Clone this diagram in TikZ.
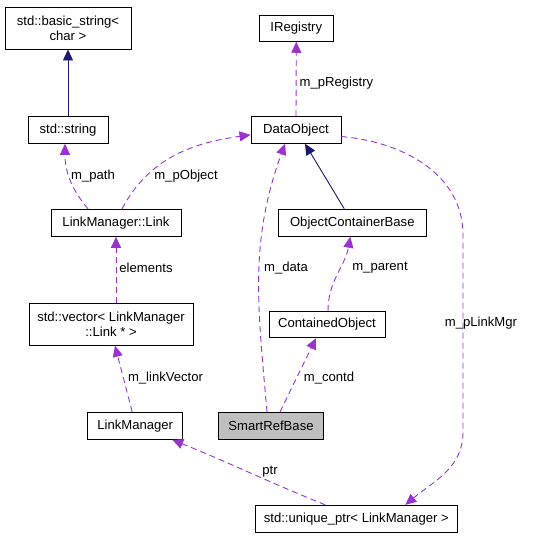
\documentclass[tikz,border=0pt]{standalone}
\usepackage{fontspec}
\setmainfont{Liberation Sans}
\usetikzlibrary{arrows.meta}
\definecolor{edgepurple}{HTML}{9A32CD}
\definecolor{edgenavy}{HTML}{191970}
\definecolor{boxgray}{HTML}{BFBFBF}
\begin{document}
\begin{tikzpicture}[x=1pt,y=-1pt,
  font=\fontsize{13.1}{15}\selectfont,
  box/.style={draw=black, line width=0.9pt, fill=white, inner sep=0pt, align=center},
  rel/.style={draw=edgepurple, line width=0.9pt, dash pattern=on 6pt off 4pt, -{Triangle[length=11pt,width=10pt]}},
  inh/.style={draw=edgenavy, line width=0.9pt, -{Triangle[length=11pt,width=10pt]}},
  lbl/.style={inner sep=0pt, anchor=center}
]
\useasboundingbox (0,0) rectangle (548,539);
% nodes
\node[box, minimum width=126pt, minimum height=42pt] (bstr) at (68,28) {std::basic\_string<\\char >};
\node[box, minimum width=80pt, minimum height=27pt] (str) at (68,129.8) {std::string};
\node[box, minimum width=130pt, minimum height=27pt] (link) at (116,222.8) {LinkManager::Link};
\node[box, minimum width=74pt, minimum height=26pt] (ireg) at (296.3,28.3) {IRegistry};
\node[box, minimum width=90pt, minimum height=27pt] (dobj) at (296,129.8) {DataObject};
\node[box, minimum width=148pt, minimum height=27pt] (ocb) at (352.3,222.8) {ObjectContainerBase};
\node[box, minimum width=164pt, minimum height=42pt] (vec) at (111,324.3) {std::vector< LinkManager\\::Link * >};
\node[box, minimum width=116pt, minimum height=26.4pt] (cobj) at (327,324.5) {ContainedObject};
\node[box, minimum width=95pt, minimum height=27pt] (lm) at (135.2,425.8) {LinkManager};
\node[box, minimum width=105.4pt, minimum height=27pt, fill=boxgray] (srb) at (271,425.8) {SmartRefBase};
\node[box, minimum width=201.3pt, minimum height=27pt] (uptr) at (356.3,518.8) {std::unique\_ptr< LinkManager >};
% helper coordinates
\coordinate (pl1) at (463,235);
\coordinate (pl2) at (463,432);
% edges
\draw[inh] (str.north) -- (bstr.south);
\draw[inh] ([xshift=-8pt]ocb.north) -- ([xshift=9pt]dobj.south);
\draw[rel] ([xshift=-28pt]link.north) to[out=130,in=-90] ([xshift=-3pt]str.south);
\draw[rel] ([xshift=6pt]link.north) to[out=62,in=188] ([yshift=-5pt]dobj.west);
\draw[rel] ([xshift=5pt]vec.north) -- (link.south);
\draw[rel] ([xshift=-3pt]lm.north) -- ([xshift=4pt]vec.south);
\draw[rel] (dobj.north) -- (ireg.south);
\draw[rel] ([xshift=-4pt]srb.north) to[out=95,in=-110] ([xshift=-11pt]dobj.south);
\draw[rel] ([xshift=1pt]cobj.north) to[out=90,in=-100] ([xshift=-2pt]ocb.south);
\draw[rel] ([xshift=9pt]srb.north) -- ([xshift=-11pt]cobj.south);
\draw[rel] ([xshift=-31pt]uptr.north) to[out=158,in=-22] ([xshift=37pt]lm.south);
\draw[rel] ([yshift=-6.7pt]dobj.east) to[out=-5,in=90] (pl1) -- (pl2) to[out=-90,in=40] ([xshift=49pt]uptr.north);
% labels
\node[lbl] (lpath) at (93,176) {m\_path};
\node[lbl] (lpobj) at (186,176) {m\_pObject};
\node[lbl] (lelem) at (146,268) {elements};
\node[lbl] (lpreg) at (336.5,82.7) {m\_pRegistry};
\node[lbl] (ldata) at (286,268) {m\_data};
\node[lbl] (lpar) at (380,268) {m\_parent};
\node[lbl] (lplm) at (481,323.3) {m\_pLinkMgr};
\node[lbl] (llv) at (165.5,378.3) {m\_linkVector};
\node[lbl] (lcontd) at (329,378.3) {m\_contd};
\node[lbl] (lptr) at (270,471.7) {ptr};
\end{tikzpicture}
\end{document}
